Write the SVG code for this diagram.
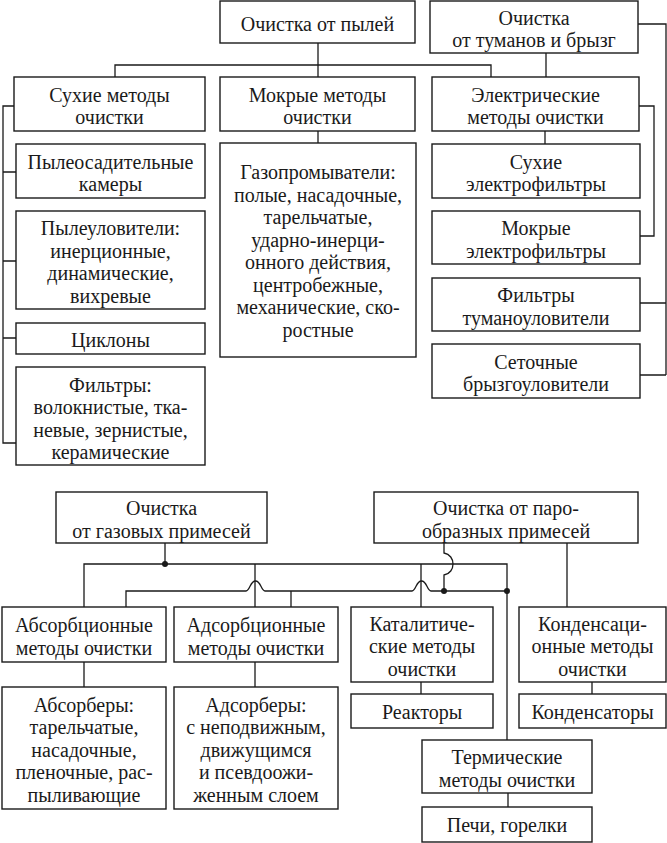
<svg xmlns="http://www.w3.org/2000/svg" width="667" height="843" viewBox="0 0 667 843">
<style>
rect.b{fill:#fff;stroke:#1a1a1a;stroke-width:1.4}
text{font-family:"Liberation Serif","Times New Roman",serif;font-size:20px;fill:#1a1a1a;text-anchor:middle}
.c path,.c line{fill:none;stroke:#1a1a1a;stroke-width:1.3}
.c circle{fill:#1a1a1a}
</style>
<rect width="667" height="843" fill="#fff"/>
<g class="c" id="connectors">
<path d="M318,43 V77 M115,77 V65 H491 V77"/>
<path d="M546,53 V77"/>
<path d="M638,24 H666 V375 M666,303 H640 M666,375 H640"/>
<path d="M14,106 H3 V443 H16 M3,172 H16 M3,261 H16 M3,338 H16"/>
<path d="M639,106 H654 V236 H640"/>
<path d="M318,131 V143"/>
<path d="M545,131 V144"/>
<path d="M165,543 V564 M84,607 V564 H507 V740 M255,564 V607 M421,564 V607"/>
<path d="M126,607 V591 H246 C250,591 250,581 255.5,581 C261,581 261,591 265,591 H412 C416,591 416,581 421.5,581 C427,581 427,591 431,591 H507"/>
<path d="M291,591 V607"/>
<path d="M444,543 V553 C456,555 456,573 444,575 V591"/>
<path d="M567,543 V607"/>
<path d="M84,662 V687 M255,662 V687"/>
<path d="M421,682 V694 M592,682 V694"/>
<path d="M508,793 V807"/>
<circle cx="165" cy="564" r="3"/>
<circle cx="444" cy="591" r="3"/>
<circle cx="507" cy="591" r="3"/>
</g>
<g id="n1"><rect class="b" x="220" y="1" width="195" height="42"/><text x="317.5" y="30.5">Очистка от пылей</text></g>
<g id="n2"><rect class="b" x="430" y="1" width="208" height="52"/><text x="534" y="24.5">Очистка</text><text x="534" y="47">от туманов и брызг</text></g>
<g id="n3"><rect class="b" x="14" y="77" width="191" height="54"/><text x="109.5" y="101.5">Сухие методы</text><text x="109.5" y="124">очистки</text></g>
<g id="n4"><rect class="b" x="220" y="77" width="195" height="54"/><text x="317.5" y="101.5">Мокрые методы</text><text x="317.5" y="124">очистки</text></g>
<g id="n5"><rect class="b" x="432" y="77" width="207" height="54"/><text x="535.5" y="101.5">Электрические</text><text x="535.5" y="124">методы очистки</text></g>
<g id="n6"><rect class="b" x="16" y="144" width="189" height="54"/><text x="110.5" y="168.5">Пылеосадительные</text><text x="110.5" y="191">камеры</text></g>
<g id="n7"><rect class="b" x="16" y="211" width="189" height="98"/><text x="110.5" y="235">Пылеуловители:</text><text x="110.5" y="257.5">инерционные,</text><text x="110.5" y="280">динамические,</text><text x="110.5" y="302.5">вихревые</text></g>
<g id="n8"><rect class="b" x="16" y="323" width="189" height="31"/><text x="110.5" y="347">Циклоны</text></g>
<g id="n9"><rect class="b" x="16" y="367" width="189" height="98"/><text x="110.5" y="391.5">Фильтры:</text><text x="110.5" y="414">волокнистые, тка-</text><text x="110.5" y="436.5">невые, зернистые,</text><text x="110.5" y="459">керамические</text></g>
<g id="n10"><rect class="b" x="220" y="143" width="196" height="214"/><text x="318" y="179">Газопромыватели:</text><text x="318" y="201.5">полые, насадочные,</text><text x="318" y="224">тарельчатые,</text><text x="318" y="246.5">ударно-инерци-</text><text x="318" y="269">онного действия,</text><text x="318" y="291.5">центробежные,</text><text x="318" y="314">механические, ско-</text><text x="318" y="336.5">ростные</text></g>
<g id="n11"><rect class="b" x="432" y="144" width="208" height="54"/><text x="536" y="168.5">Сухие</text><text x="536" y="191">электрофильтры</text></g>
<g id="n12"><rect class="b" x="432" y="211" width="208" height="53"/><text x="536" y="235">Мокрые</text><text x="536" y="257.5">электрофильтры</text></g>
<g id="n13"><rect class="b" x="432" y="278" width="208" height="53"/><text x="536" y="302">Фильтры</text><text x="536" y="324.5">туманоуловители</text></g>
<g id="n14"><rect class="b" x="432" y="344" width="208" height="54"/><text x="536" y="368.5">Сеточные</text><text x="536" y="391">брызгоуловители</text></g>
<g id="n15"><rect class="b" x="56" y="492" width="211" height="51"/><text x="161.5" y="515">Очистка</text><text x="161.5" y="537.5">от газовых примесей</text></g>
<g id="n16"><rect class="b" x="374" y="492" width="264" height="51"/><text x="506" y="515">Очистка от паро-</text><text x="506" y="537.5">образных примесей</text></g>
<g id="n17"><rect class="b" x="2" y="607" width="164" height="55"/><text x="84" y="632">Абсорбционные</text><text x="84" y="654.5">методы очистки</text></g>
<g id="n18"><rect class="b" x="174" y="607" width="164" height="55"/><text x="256" y="632">Адсорбционные</text><text x="256" y="654.5">методы очистки</text></g>
<g id="n19"><rect class="b" x="351" y="607" width="142" height="75"/><text x="422" y="630.5">Каталитиче-</text><text x="422" y="653">ские методы</text><text x="422" y="675.5">очистки</text></g>
<g id="n20"><rect class="b" x="519" y="607" width="147" height="75"/><text x="592.5" y="630.5">Конденсаци-</text><text x="592.5" y="653">онные методы</text><text x="592.5" y="675.5">очистки</text></g>
<g id="n21"><rect class="b" x="2" y="687" width="164" height="122"/><text x="84" y="711.5">Абсорберы:</text><text x="84" y="734">тарельчатые,</text><text x="84" y="756.5">насадочные,</text><text x="84" y="779">пленочные, рас-</text><text x="84" y="801.5">пыливающие</text></g>
<g id="n22"><rect class="b" x="174" y="687" width="164" height="122"/><text x="256" y="711.5">Адсорберы:</text><text x="256" y="734">с неподвижным,</text><text x="256" y="756.5">движущимся</text><text x="256" y="779">и псевдоожи-</text><text x="256" y="801.5">женным слоем</text></g>
<g id="n23"><rect class="b" x="351" y="694" width="142" height="34"/><text x="422" y="718.5">Реакторы</text></g>
<g id="n24"><rect class="b" x="519" y="694" width="147" height="34"/><text x="592.5" y="718.5">Конденсаторы</text></g>
<g id="n25"><rect class="b" x="422" y="740" width="170" height="53"/><text x="507" y="764">Термические</text><text x="507" y="786.5">методы очистки</text></g>
<g id="n26"><rect class="b" x="422" y="807" width="170" height="35"/><text x="507" y="832">Печи, горелки</text></g>
</svg>
